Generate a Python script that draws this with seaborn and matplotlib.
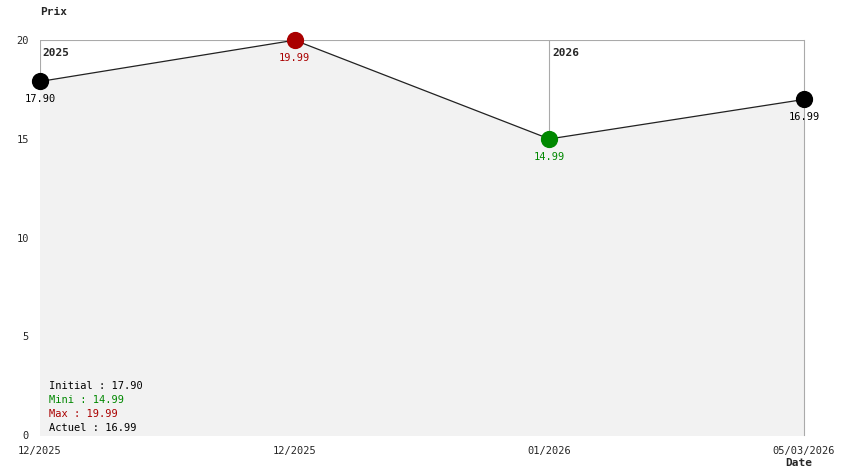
import matplotlib
matplotlib.use("Agg")
import matplotlib.pyplot as plt
import seaborn as sns
import pandas as pd

dates = ["12/2025", "12/2025", "01/2026", "05/03/2026"]
prices = [17.90, 19.99, 14.99, 16.99]
colors = ["black", "#aa0000", "#008800", "black"]
years = [(0, "2025"), (2, "2026")]

sns.set_style("white")
plt.rcParams['font.family'] = ['DejaVu Sans Mono']
df = pd.DataFrame({"i": range(len(prices)), "p": prices})

fig = plt.figure(figsize=8.44 * 1 and (8.44, 4.74), dpi=100)
ax = fig.add_axes([40/844, 39/474, 764/844, 395/474])
ax.set_xlim(0, 3)
ax.set_ylim(0, 20)
for x, lab in years:
    ax.axvline(x, color="#aaaaaa", lw=0.8, zorder=1)
    ax.text(x + 0.01, 19.6, lab, fontsize=8, fontweight="bold", va="top", zorder=5)
ax.axhline(20, color="#aaaaaa", lw=0.8, zorder=1)
ax.fill_between(df["i"], df["p"], 0, color="#f2f2f2", zorder=2)
sns.lineplot(data=df, x="i", y="p", color="#222222", lw=0.9, ax=ax, zorder=3)
for i, (p, c) in enumerate(zip(prices, colors)):
    ax.scatter(i, p, s=130, color=c, zorder=4, clip_on=False)
    ax.text(i, p - 0.65, f"{p:.2f}", color=c, fontsize=7.5, ha="center", va="top", zorder=5)
for s in ax.spines.values():
    s.set_visible(False)
ax.spines["right"].set_visible(True)
ax.spines["right"].set_color("#aaaaaa")
ax.spines["right"].set_linewidth(0.8)
ax.set_xticks(range(4))
ax.set_xticklabels(dates, fontsize=7.5)
ax.set_yticks([0, 5, 10, 15, 20])
ax.set_yticklabels(["0", "5", "10", "15", "20"], fontsize=7.5)
ax.tick_params(length=0, pad=8)
ax.set_xlabel("")
ax.set_ylabel("")
fig.text(40/844, 1 - 12/474, "Prix", fontsize=8, fontweight="bold", ha="left", va="center")
fig.text(812/844, 1 - 463/474, "Date", fontsize=8, fontweight="bold", ha="right", va="center")
legend = [("Initial : 17.90", "black"), ("Mini : 14.99", "#008800"),
          ("Max : 19.99", "#aa0000"), ("Actuel : 16.99", "black")]
for k, (t, c) in enumerate(legend):
    fig.text(49/844, 1 - (386 + 14 * k)/474, t, color=c, fontsize=7.5, va="center")
fig.savefig("out.png", dpi=100)
